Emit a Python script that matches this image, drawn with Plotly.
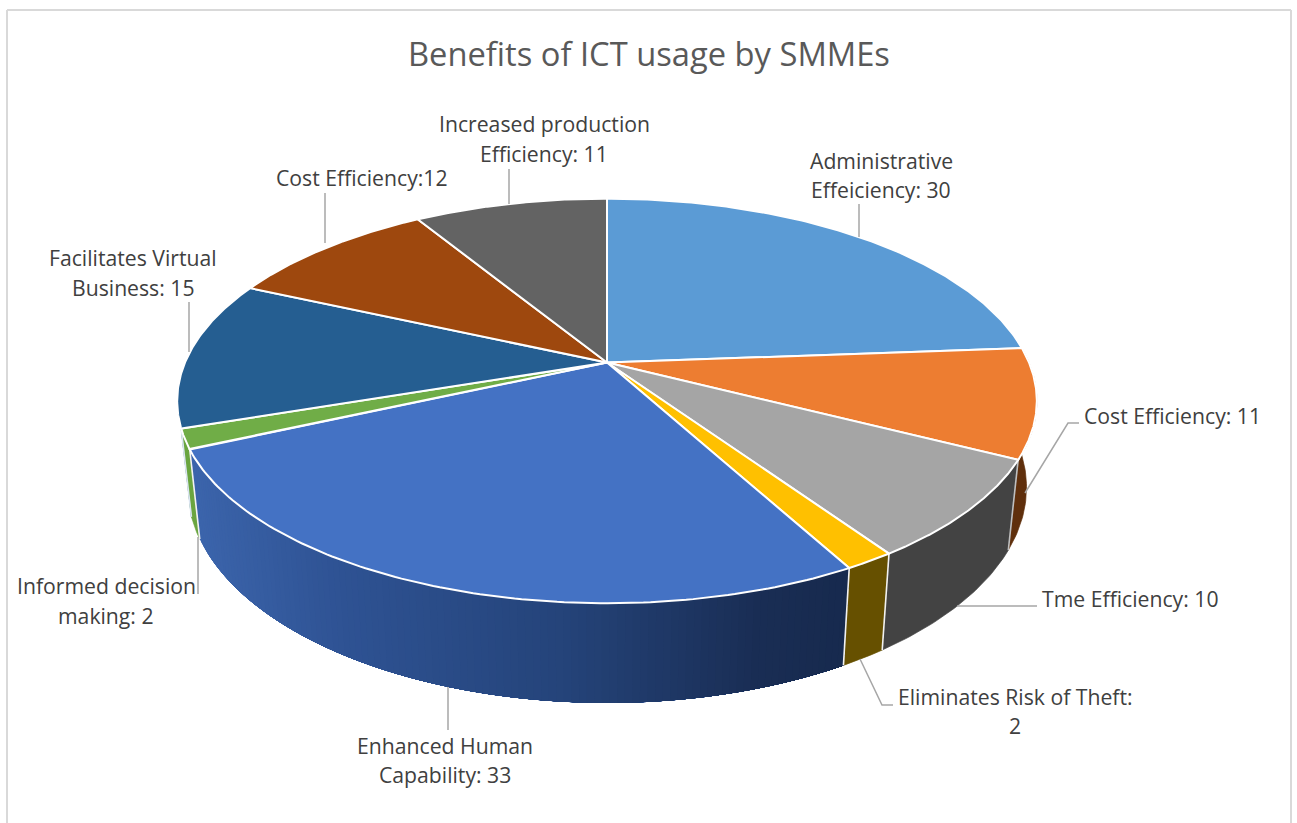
import numpy as np
import plotly.graph_objects as go

categories = ["Administrative Effeiciency", "Cost Efficiency", "Tme Efficiency",
              "Eliminates Risk of Theft", "Enhanced Human Capability",
              "Informed decision making", "Facilitates Virtual Business",
              "Cost Efficiency", "Increased production Efficiency"]
values = [30, 11, 10, 2, 33, 2, 15, 12, 11]
top_colors = ["#5B9BD5", "#ED7D31", "#A5A5A5", "#FFC000", "#4472C4",
              "#70AD47", "#255E91", "#9E480E", "#636363"]
wall_colors = ["#3A6A95", "#5F2F0C", "#434343", "#665000", None,
               "#6AA53F", "#5F86B0", "#6A300A", "#434343"]
# each label line: text, x centre, y centre
label_lines = [("Administrative", 881, 160), ("Effeiciency: 30", 881, 189),
               ("Cost Efficiency: 11", 1172, 415),
               ("Tme Efficiency: 10", 1130, 598),
               ("Eliminates Risk of Theft:", 1015, 696), ("2", 1015, 725),
               ("Enhanced Human", 445, 745), ("Capability: 33", 445, 774),
               ("Informed decision", 106, 585), ("making: 2", 106, 615),
               ("Facilitates Virtual", 133, 257), ("Business: 15", 133, 287),
               ("Cost Efficiency:12", 362, 177),
               ("Increased production", 544, 123), ("Efficiency: 11", 544, 153)]
leaders = [[(859, 237), (859, 204)],
           [(1025, 493), (1068, 423), (1079, 423)],
           [(957, 606), (1037, 606)],
           [(860, 659), (882, 705), (893, 705)],
           [(448, 687), (448, 730)],
           [(198, 537), (198, 594)],
           [(189, 352), (189, 302)],
           [(325, 243), (325, 193)],
           [(509, 204), (509, 169)]]
title_text = "Benefits of ICT usage by SMMEs"

CX, CY, A, B, K = 607.0, 362.5, 422.0, 195.0, 0.19
SIDE, DROP, STRETCH, YREF = 0.976, 90.0, 1.065, 455.0


def top(t):
    d = 1 + K * np.cos(t)
    return CX + A * np.sin(t) / d, CY - B * np.cos(t) / d


def bottom(t):
    x, y = top(t)
    return CX + (x - CX) * SIDE, YREF + DROP + (y - YREF) * STRETCH


def poly(xs, ys, color, line=None, width=0):
    return go.Scatter(x=list(xs), y=list(ys), mode="lines", fill="toself", fillcolor=color,
                      line=dict(color=line or color, width=width), hoverinfo="skip",
                      showlegend=False)


def wall(t0, t1, color, width=0.7):
    lo, hi = min(t0, t1), max(t0, t1)
    ts = np.linspace(lo, hi, max(int((hi - lo) * 80), 3))
    xt, yt = top(ts)
    xb, yb = bottom(ts[::-1])
    return poly(np.r_[xt, xb, xt[0]], np.r_[yt, yb, yt[0]], color, color, width)


def shade(x):
    stops = [(200, (60, 101, 172)), (340, (47, 83, 148)), (560, (37, 68, 122)),
             (750, (26, 46, 85)), (845, (23, 42, 78))]
    rgb = [np.interp(x, [s[0] for s in stops], [s[1][k] for s in stops]) for k in range(3)]
    return "rgb(%d,%d,%d)" % tuple(rgb)


total = sum(values)
edges = np.cumsum([0] + values) / total * 2 * np.pi

fig = go.Figure()

# side walls, back to front
for i in [6, 5, 1, 2, 3]:
    if i == 6:
        fig.add_trace(wall(edges[6], edges[7] - 0.75, wall_colors[i]))
    else:
        fig.add_trace(wall(edges[i], edges[i + 1], wall_colors[i]))

# the large front wall carries a left-to-right shading: each step is painted over the
# previous one and reaches to the wall's right end, so no seams show between steps
n = 110
steps = np.linspace(edges[5], edges[4], n + 1)
for j in range(n):
    xm = bottom(steps[j])[0]
    fig.add_trace(wall(steps[j], edges[4], shade(xm), 0))

# seams between walls
for e, col in [(edges[2], "#BFBFBF"), (edges[3], "#F2F2F2"), (edges[4], "#F2F2F2"),
               (edges[5], "#F2F2F2"), (edges[6], "#DCE6F2")]:
    x0, y0 = top(e)
    x1, y1 = bottom(e)
    fig.add_trace(go.Scatter(x=[x0, x1], y=[y0, y1], mode="lines",
                             line=dict(color=col, width=1.6), hoverinfo="skip", showlegend=False))

# top face
for i in range(len(values)):
    ts = np.linspace(edges[i], edges[i + 1], 120)
    x, y = top(ts)
    fig.add_trace(poly(np.r_[CX, x, CX], np.r_[CY, y, CY], top_colors[i], "#FFFFFF", 2))

# leader lines
for seg in leaders:
    fig.add_trace(go.Scatter(x=[p[0] for p in seg], y=[p[1] for p in seg], mode="lines",
                             line=dict(color="#A6A6A6", width=1.5), hoverinfo="skip", showlegend=False))

for t, x, y in label_lines:
    fig.add_annotation(x=x, y=y, text=t, showarrow=False, xanchor="center", yanchor="middle",
                       align="center", font=dict(family="Open Sans", size=21.2, color="#404040"))
fig.add_annotation(x=649, y=53, text=title_text, showarrow=False, xanchor="center", yanchor="middle",
                   font=dict(family="Open Sans", size=32.7, color="#595959"))

# chart frame
for x0, y0, x1, y1 in [(7, 10, 1291, 10), (7, 10, 7, 823), (1291, 10, 1291, 823)]:
    fig.add_shape(type="line", x0=x0, y0=y0, x1=x1, y1=y1, line=dict(color="#D9D9D9", width=2))

fig.update_layout(width=1297, height=823, margin=dict(l=0, r=0, t=0, b=0),
                  paper_bgcolor="white", plot_bgcolor="white", showlegend=False,
                  xaxis=dict(range=[0, 1297], visible=False, fixedrange=True),
                  yaxis=dict(range=[823, 0], visible=False, fixedrange=True))
fig.write_html("out.html", config={"displayModeBar": False},
               post_script="document.body.style.margin='0';document.body.style.overflow='hidden';")
